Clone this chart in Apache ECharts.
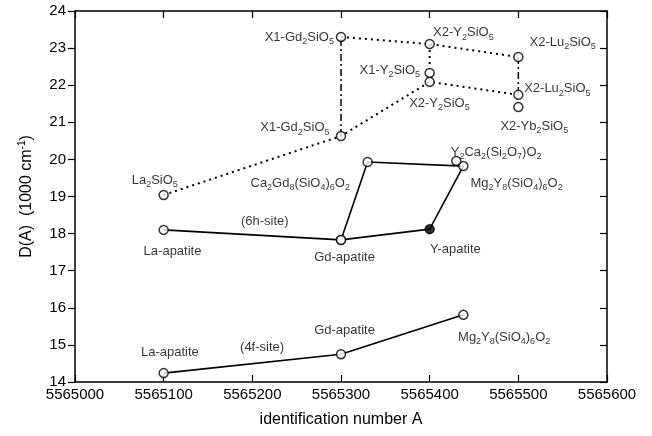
<!DOCTYPE html>
<html>
<head>
<meta charset="utf-8">
<script src="https://cdn.jsdelivr.net/npm/echarts@6/dist/echarts.min.js"></script>
<style>
  html, body { margin: 0; padding: 0; background: #fff; }
  #chart { width: 652px; height: 436px; }
</style>
</head>
<body>
<div id="chart"></div>
<script>
// data
var dotLower = [[5565100, 19.04], [5565300, 20.63], [5565400, 22.09], [5565500, 21.74]]
var dotUpper = [[5565300, 23.30], [5565400, 23.11], [5565500, 22.76]]
var site6h = [[5565100, 18.10], [5565300, 17.83], [5565400, 18.12], [5565438, 19.82], [5565330, 19.93], [5565300, 17.83]]
var site4f = [[5565100, 14.24], [5565300, 14.75], [5565438, 15.81]]
var extraPts = [[5565400, 22.33], [5565500, 21.41], [5565430, 19.96]]
var yApatite = [[5565400, 18.12]]

// text labels: [x, y, text]
var labels = [
    [5565253, 23.30, 'X1-Gd{s|2}SiO{s|5}'],
    [5565438, 23.41, 'X2-Y{s|2}SiO{s|5}'],
    [5565550, 23.16, 'X2-Lu{s|2}SiO{s|5}'],
    [5565355, 22.41, 'X1-Y{s|2}SiO{s|5}'],
    [5565544, 21.90, 'X2-Lu{s|2}SiO{s|5}'],
    [5565411, 21.52, 'X2-Y{s|2}SiO{s|5}'],
    [5565518, 20.90, 'X2-Yb{s|2}SiO{s|5}'],
    [5565248, 20.85, 'X1-Gd{s|2}SiO{s|5}'],
    [5565090, 19.44, 'La{s|2}SiO{s|5}'],
    [5565254, 19.36, 'Ca{s|2}Gd{s|8}(SiO{s|4}){s|6}O{s|2}'],
    [5565475, 20.20, 'Y{s|2}Ca{s|2}(Si{s|2}O{s|7})O{s|2}'],
    [5565498, 19.36, 'Mg{s|2}Y{s|8}(SiO{s|4}){s|6}O{s|2}'],
    [5565214, 18.34, '(6h-site)'],
    [5565110, 17.53, 'La-apatite'],
    [5565304, 17.37, 'Gd-apatite'],
    [5565429, 17.58, 'Y-apatite'],
    [5565304, 15.40, 'Gd-apatite'],
    [5565107, 14.81, 'La-apatite'],
    [5565211, 14.94, '(4f-site)'],
    [5565484, 15.21, 'Mg{s|2}Y{s|8}(SiO{s|4}){s|6}O{s|2}']
]

var font = 'Liberation Sans, Arial, sans-serif'
var openPts = dotLower.concat(dotUpper, site6h.filter(function (p, i) { return i != 2 }), site4f, extraPts)

var dotted = { color: '#000', width: 2, type: [2, 4] }
var dashDot = { color: '#000', width: 1.5, type: [7, 3, 2, 3] }
var solid = { color: '#000', width: 1.6 }

function line(data, style) {
    return { type: 'line', data: data, symbol: 'none', lineStyle: style, silent: true, z: 2 }
}

var chart = echarts.init(document.getElementById('chart'))
chart.setOption({
    animation: false,
    grid: { left: 75, right: 45, top: 11, bottom: 54 },
    xAxis: [{
        type: 'value', min: 5565000, max: 5565600, interval: 100,
        name: 'identification number A', nameLocation: 'middle', nameGap: 30,
        nameTextStyle: { fontFamily: font, fontSize: 16, color: '#000' },
        axisLine: { lineStyle: { color: '#000', width: 1.5 } },
        axisTick: { inside: true, length: 7, lineStyle: { color: '#000', width: 1.2 } },
        axisLabel: { fontFamily: font, fontSize: 15, color: '#000', margin: 5, formatter: function (v) { return String(v) } },
        splitLine: { show: false }
    }, {
        type: 'value', position: 'top', min: 5565000, max: 5565600, interval: 100,
        axisLine: { lineStyle: { color: '#000', width: 1.5 } },
        axisTick: { inside: true, length: 7, lineStyle: { color: '#000', width: 1.2 } },
        axisLabel: { show: false }, splitLine: { show: false }
    }],
    yAxis: [{
        type: 'value', min: 14, max: 24, interval: 1,
        name: 'D(A)  (1000 cm{p|-1})', nameLocation: 'middle', nameRotate: 90, nameGap: 38,
        nameTextStyle: {
            fontFamily: font, fontSize: 16, color: '#000', lineHeight: 20,
            rich: { p: { fontFamily: font, fontSize: 10, lineHeight: 10, verticalAlign: 'top', color: '#000' } }
        },
        axisLine: { lineStyle: { color: '#000', width: 1.5 } },
        axisTick: { inside: false, length: 7, lineStyle: { color: '#000', width: 1.2 } },
        axisLabel: { fontFamily: font, fontSize: 15, color: '#000', margin: 9 },
        splitLine: { show: false }
    }, {
        type: 'value', position: 'right', min: 14, max: 24, interval: 1,
        axisLine: { lineStyle: { color: '#000', width: 1.5 } },
        axisTick: { inside: true, length: 7, lineStyle: { color: '#000', width: 1.2 } },
        axisLabel: { show: false }, splitLine: { show: false }
    }],
    series: [
        line(dotLower, dotted),
        line(dotUpper, dotted),
        line([dotLower[1], dotUpper[0]], dashDot),
        line([dotUpper[1], extraPts[0]], dotted),
        line([dotUpper[2], dotLower[3]], dashDot),
        line(site6h, solid),
        line(site4f, solid),
        {
            type: 'scatter', data: openPts, symbol: 'circle', symbolSize: 9, z: 5, silent: true,
            itemStyle: { color: '#fff', borderColor: '#000', borderWidth: 1.5 }
        },
        {
            type: 'scatter', data: yApatite, symbol: 'circle', symbolSize: 9, z: 5, silent: true,
            itemStyle: { color: '#000', borderColor: '#000', borderWidth: 1.5 }
        },
        {
            type: 'scatter', symbolSize: 1, z: 6, silent: true,
            itemStyle: { color: 'transparent' },
            data: labels.map(function (l) { return { value: [l[0], l[1]], name: l[2] } }),
            label: {
                show: true, position: 'inside', formatter: '{b}',
                fontFamily: font, fontSize: 13, color: '#000', lineHeight: 18,
                rich: { s: { fontFamily: font, fontSize: 9, lineHeight: 10, verticalAlign: 'bottom', color: '#000' } }
            }
        }
    ]
})
</script>
</body>
</html>
